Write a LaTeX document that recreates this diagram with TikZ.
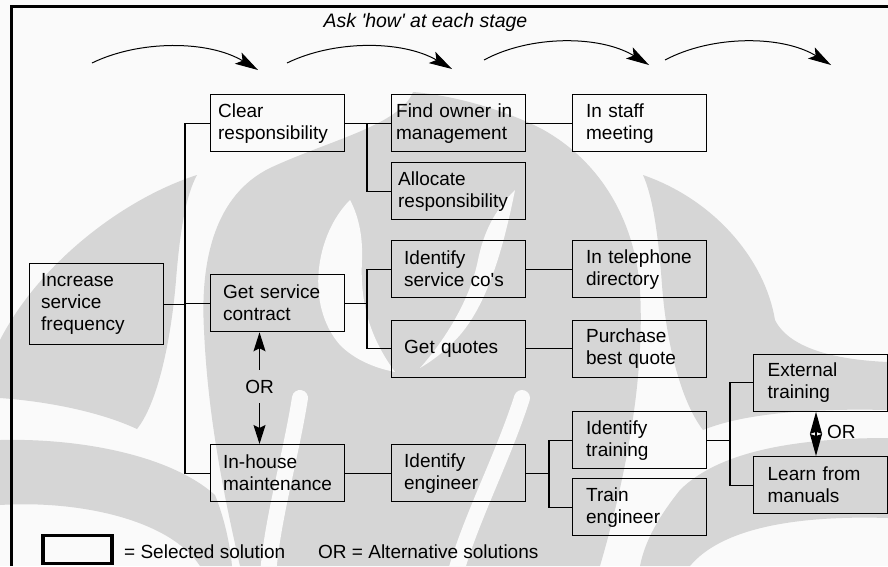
\documentclass[tikz,border=0pt]{standalone}
\usepackage{fontspec}
\setmainfont{Liberation Sans}
\usetikzlibrary{arrows.meta}
\definecolor{paper}{RGB}{250,250,250}
\definecolor{wm}{RGB}{214,214,214}
\begin{document}
\begin{tikzpicture}[x=1pt,y=-1pt,
  box/.style={draw=black, line width=1.3pt, minimum height=57pt, align=left,
    font=\fontsize{19}{22}\selectfont, anchor=north west, inner ysep=0pt},
  i5/.style={inner xsep=5pt, text width=124pt},
  i7/.style={inner xsep=7pt, text width=120pt},
  i8/.style={inner xsep=8pt, text width=118pt},
  i12/.style={inner xsep=12pt, text width=110pt},
  i13/.style={inner xsep=13pt, text width=108pt},
  i14/.style={inner xsep=14pt, text width=106pt},
  conn/.style={draw=black, line width=1.3pt},
  label/.style={font=\fontsize{19}{22}\selectfont, inner sep=0pt},
  orlabel/.style={font=\fontsize{19}{22}\selectfont, inner xsep=2pt, inner ysep=10pt},
  orarrow/.style={draw=black, line width=1.3pt, -{Stealth[length=19pt,width=12pt,inset=3pt]}},
  dblarrow/.style={draw=black, line width=1.3pt,
    {Stealth[length=22pt,width=12pt,inset=2pt]}-{Stealth[length=22pt,width=12pt,inset=2pt]}},
  howarc/.style={draw=black, line width=1pt, -{Stealth[length=23pt,width=13pt,inset=5pt]}},
  gap/.style={draw=paper, line width=16pt, line cap=round},
  frame/.style={draw=black, line width=3pt}]

% paper
\fill[paper] (0,0) rectangle (888,566);
\useasboundingbox (0,0) rectangle (888,566);

% background emblem
\begin{scope}
% left comma
\fill[wm] (197,175) .. controls (125,198) and (40,262) .. (0,340) -- (0,398)
  .. controls (55,402) and (105,414) .. (137,429)
  .. controls (160,400) and (172,330) .. (176,280)
  .. controls (180,230) and (186,195) .. (197,175) -- cycle;
% lower left leaf
\fill[wm] (0,440) .. controls (80,438) and (170,455) .. (215,495)
  .. controls (225,520) and (230,545) .. (232,566) -- (200,566)
  .. controls (170,520) and (80,500) .. (0,505) -- cycle;
% central flame
\fill[wm] (413,92) .. controls (400,125) and (330,140) .. (270,168)
  .. controls (215,195) and (200,260) .. (204,330)
  .. controls (208,420) and (225,500) .. (240,566) -- (600,566)
  .. controls (625,480) and (645,380) .. (640,290)
  .. controls (635,220) and (600,160) .. (540,128)
  .. controls (500,108) and (450,95) .. (413,92) -- cycle;
\fill[paper] (350,200) .. controls (315,235) and (305,305) .. (340,345)
  .. controls (355,360) and (375,368) .. (395,372)
  .. controls (368,335) and (360,300) .. (362,260)
  .. controls (363,235) and (358,215) .. (350,200) -- cycle;
\fill[paper] (515,190) .. controls (505,240) and (490,300) .. (460,335)
  .. controls (445,352) and (430,362) .. (420,368)
  .. controls (445,340) and (470,300) .. (478,260)
  .. controls (485,225) and (500,205) .. (515,190) -- cycle;
\draw[gap] (300,398) .. controls (290,460) and (272,520) .. (268,575);
\draw[gap] (522,398) .. controls (502,460) and (470,520) .. (455,575);
% right comma
\fill[wm] (643,175) .. controls (715,200) and (765,260) .. (775,320)
  .. controls (790,350) and (840,360) .. (888,362) -- (888,410)
  .. controls (800,408) and (740,415) .. (703,430)
  .. controls (680,400) and (666,340) .. (662,285)
  .. controls (658,230) and (652,195) .. (643,175) -- cycle;
% lower right leaf
\fill[wm] (888,438) .. controls (800,438) and (720,450) .. (680,490)
  .. controls (660,515) and (645,540) .. (640,566) -- (690,566)
  .. controls (720,530) and (790,515) .. (888,518) -- cycle;
\end{scope}

% frame
\draw[frame] (10.2,6.5) -- (888,6.5);
\draw[frame] (11.7,5) -- (11.7,566);

% heading and stage arrows
\node[font=\fontsize{19.5}{21}\selectfont\itshape, anchor=base, inner sep=0pt] (title)
  at (425.5,27.5) {Ask \textquotesingle how\textquotesingle\ at each stage};
\coordinate (s1) at (92,63);  \coordinate (e1) at (258,70);
\coordinate (s2) at (287,63); \coordinate (e2) at (452,69);
\coordinate (s3) at (484,60); \coordinate (e3) at (649,65);
\coordinate (s4) at (665,60); \coordinate (e4) at (831,65);
\draw[howarc] (s1) .. controls (139,40) and (208,40) .. (e1);
\draw[howarc] (s2) .. controls (334,40) and (402,40) .. (e2);
\draw[howarc] (s3) .. controls (530,35) and (600,35) .. (e3);
\draw[howarc] (s4) .. controls (712,35) and (782,35) .. (e4);

% boxes
\node[box, i12, minimum height=81pt] (inc) at (28.5,263) {Increase\\service\\frequency};
\node[box, i8]  (clear)    at (209.5,94)  {Clear\\responsibility};
\node[box, i13] (getsvc)   at (209.5,274) {Get service\\contract};
\node[box, i13] (inhouse)  at (209.5,444) {In-house\\maintenance};
\node[box, i5]  (findown)  at (390.5,94)  {Find owner in\\management};
\node[box, i7]  (alloc)    at (390.5,162) {Allocate\\responsibility};
\node[box, i13] (idsvc)    at (390.5,240) {Identify\\service co\textquotesingle s};
\node[box, i13] (quotes)   at (390.5,319.5) {Get quotes};
\node[box, i13] (ideng)    at (390.5,444) {Identify\\engineer};
\node[box, i14] (staff)    at (571.5,94)  {In staff\\meeting};
\node[box, i14] (phone)    at (571.5,240) {In telephone\\directory};
\node[box, i14] (purchase) at (571.5,319.5) {Purchase\\best quote};
\node[box, i14] (idtrain)  at (571.5,411) {Identify\\training};
\node[box, i14] (train)    at (571.5,478) {Train\\engineer};
\node[box, i14] (ext)      at (753,353.5) {External\\training};
\node[box, i14] (manuals)  at (753,456)   {Learn from\\manuals};

% branch points
\coordinate (j1) at (185,0);
\coordinate (j2) at (367,0);
\coordinate (j4) at (549,0);
\coordinate (j5) at (730,0);

% connectors
\draw[conn] (inc.east) -- (inc.east -| j1);
\draw[conn] (clear.west) -- (clear.west -| j1) -- (inhouse.west -| j1) -- (inhouse.west);
\draw[conn] (getsvc.west -| j1) -- (getsvc.west);
\draw[conn] (clear.east) -- (findown.west);
\draw[conn] (findown.west -| j2) -- (alloc.west -| j2) -- (alloc.west);
\draw[conn] (findown.east) -- (staff.west);
\draw[conn] (getsvc.east) -- (getsvc.east -| j2);
\draw[conn] (idsvc.west) -- (idsvc.west -| j2) -- (quotes.west -| j2) -- (quotes.west);
\draw[conn] (idsvc.east) -- (phone.west);
\draw[conn] (quotes.east) -- (purchase.west);
\draw[conn] (inhouse.east) -- (ideng.west);
\draw[conn] (ideng.east) -- (ideng.east -| j4);
\draw[conn] (idtrain.west) -- (idtrain.west -| j4) -- (train.west -| j4) -- (train.west);
\draw[conn] (idtrain.east) -- (idtrain.east -| j5);
\draw[conn] (ext.west) -- (ext.west -| j5) -- (manuals.west -| j5) -- (manuals.west);

% alternatives
\node[orlabel] (or1) at (259.5,386.5) {OR};
\draw[orarrow] (or1.north) -- (or1.north |- getsvc.south);
\draw[orarrow] (or1.south) -- (or1.south |- inhouse.north);
\coordinate (a2) at (816,0);
\node[label, anchor=west] (or2) at (827,432) {OR};
\draw[dblarrow] (a2 |- ext.south) -- (a2 |- manuals.north);

% key
\node[draw=black, line width=3.8pt, minimum width=69pt, minimum height=28pt,
  anchor=north west, inner sep=0pt] (key) at (41.2,533.6) {};
\node[label, anchor=base west] (keytext) at (124,558) {= Selected solution};
\node[label, anchor=base west] (ortext) at (318,558) {OR = Alternative solutions};
\end{tikzpicture}
\end{document}
